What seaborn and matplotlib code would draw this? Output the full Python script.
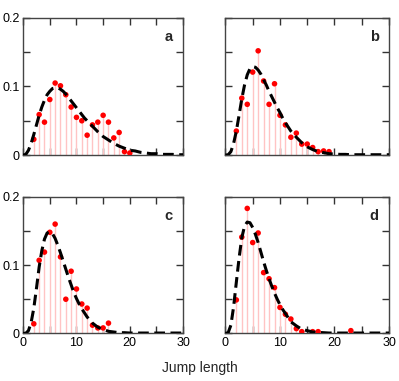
import numpy as np
import pandas as pd
import matplotlib
matplotlib.use("Agg")
import matplotlib.pyplot as plt
import seaborn as sns

sns.set_style("ticks")
plt.rcParams['font.family'] = ['Liberation Sans', 'DejaVu Sans']

# measured jump-length frequencies (red dots)
x_a = [2, 3, 4, 5, 6, 7, 8, 9, 10, 11, 12, 13, 14, 15, 16, 17, 18, 19, 20]
y_a = [0.023, 0.059, 0.048, 0.081, 0.105, 0.101, 0.088, 0.070, 0.055, 0.050,
       0.029, 0.044, 0.048, 0.058, 0.048, 0.025, 0.033, 0.005, 0.003]
x_b = [2, 3, 4, 5, 6, 7, 8, 9, 10, 11, 12, 13, 14, 15, 16, 17, 18, 19]
y_b = [0.035, 0.083, 0.074, 0.121, 0.152, 0.108, 0.074, 0.104, 0.058, 0.044,
       0.026, 0.032, 0.016, 0.016, 0.011, 0.005, 0.006, 0.005]
x_c = [2, 3, 4, 5, 6, 7, 8, 9, 10, 11, 12, 13, 14, 15, 16]
y_c = [0.014, 0.107, 0.119, 0.148, 0.160, 0.112, 0.050, 0.091, 0.065, 0.043,
       0.037, 0.012, 0.008, 0.008, 0.015]
x_d = [2, 3, 4, 5, 6, 7, 8, 9, 10, 11, 12, 13, 14, 16, 17, 23]
y_d = [0.049, 0.141, 0.183, 0.133, 0.147, 0.089, 0.080, 0.067, 0.038, 0.028,
       0.021, 0.007, 0.0025, 0.0025, 0.0025, 0.004]

# fitted curves (dashed)
fit_x = [0, 0.5, 1, 1.5, 2, 2.5, 3, 3.5, 4, 4.5, 5, 5.5, 6, 6.5, 7, 7.5, 8, 8.5,
         9, 9.5, 10, 10.5, 11, 11.5, 12, 13, 14, 15, 16, 17, 18, 19, 20, 21,
         22, 23, 24, 25, 26, 27, 28, 29, 30]
fit_a = [0, 0.001, 0.007, 0.017, 0.030, 0.044, 0.058, 0.070, 0.080, 0.088,
         0.093, 0.097, 0.098, 0.098, 0.096, 0.093, 0.089, 0.084, 0.079, 0.074,
         0.069, 0.064, 0.059, 0.054, 0.050, 0.042, 0.034, 0.027, 0.022, 0.017,
         0.013, 0.010, 0.007, 0.006, 0.004, 0.003, 0.002, 0.002, 0.001, 0.001,
         0.001, 0.0005, 0.0005]
fit_b = [0, 0.0005, 0.005, 0.017, 0.035, 0.058, 0.082, 0.102, 0.117, 0.126,
         0.129, 0.128, 0.124, 0.118, 0.110, 0.102, 0.093, 0.085, 0.077, 0.069,
         0.062, 0.054, 0.047, 0.041, 0.035, 0.026, 0.018, 0.012, 0.008, 0.005,
         0.0035, 0.002, 0.0015, 0.001, 0.001, 0.0005, 0.0005, 0.0005, 0.0005,
         0.0005, 0.0005, 0.0005, 0.0005]
fit_c = [0, 0.0002, 0.004, 0.016, 0.037, 0.066, 0.097, 0.121, 0.138, 0.147,
         0.149, 0.146, 0.139, 0.129, 0.118, 0.106, 0.094, 0.082, 0.071, 0.060,
         0.051, 0.043, 0.036, 0.030, 0.024, 0.015, 0.009, 0.006, 0.003, 0.002,
         0.001, 0.001, 0.0005, 0.0005, 0.0005, 0.0005, 0.0005, 0.0005, 0.0005,
         0.0005, 0.0005, 0.0005, 0.0005]
fit_d = [0, 0.001, 0.012, 0.039, 0.075, 0.110, 0.140, 0.157, 0.163, 0.162,
         0.155, 0.145, 0.133, 0.119, 0.105, 0.092, 0.080, 0.069, 0.059, 0.050,
         0.042, 0.035, 0.029, 0.023, 0.017, 0.011, 0.006, 0.004, 0.002, 0.0015,
         0.001, 0.0005, 0.0005, 0.0005, 0.0005, 0.0005, 0.0005, 0.0005, 0.0005,
         0.0005, 0.0005, 0.0005, 0.0005]

panels = [
    ('a', x_a, y_a, fit_a, [0.058, 0.593, 0.401, 0.360]),
    ('b', x_b, y_b, fit_b, [0.565, 0.593, 0.410, 0.360]),
    ('c', x_c, y_c, fit_c, [0.058, 0.125, 0.401, 0.3585]),
    ('d', x_d, y_d, fit_d, [0.565, 0.125, 0.410, 0.3585]),
]

fig = plt.figure(figsize=(3.99, 3.81), dpi=100)

for i, (lab, xs, ys, fit, pos) in enumerate(panels):
    ax = fig.add_axes(pos)
    pts = pd.DataFrame({'x': xs, 'y': ys})
    curve = pd.DataFrame({'x': fit_x, 'y': fit})
    ax.vlines(pts.x, 0, pts.y, color='#ffc4c4', lw=1.0, zorder=1)
    sns.scatterplot(data=pts, x='x', y='y', ax=ax, color='#ff0000', s=16,
                    edgecolor='none', zorder=3)
    sns.lineplot(data=curve, x='x', y='y', ax=ax, color='black', lw=2.2,
                 dashes=False, zorder=4)
    ax.lines[-1].set_dashes([3.5, 1.8])
    ax.set_xlim(0, 30)
    ax.set_ylim(0, 0.2)
    ax.set_xlabel('')
    ax.set_ylabel('')
    ax.set_xticks(np.arange(0, 31, 5))
    ax.set_yticks(np.arange(0, 0.201, 0.05))
    left = i % 2 == 0
    bottom = i >= 2
    ax.set_xticklabels(['0', '', '10', '', '20', '', '30'] if bottom else [])
    ax.set_yticklabels(['0', '', '0.1', '', '0.2'] if left else [])
    ax.tick_params(direction='in', top=True, right=True, length=5, width=1,
                   color='#333333', labelsize=9, labelcolor='black', pad=2.5)
    for s in ax.spines.values():
        s.set_color('#444444')
        s.set_linewidth(1.0)
    ax.text(0.91, 0.86, lab, transform=ax.transAxes, ha='center', va='center',
            fontsize=10.5, fontweight='bold')

fig.text(0.5, 0.035, 'Jump length', ha='center', va='center', fontsize=10)

fig.savefig('out.png', dpi=100)
